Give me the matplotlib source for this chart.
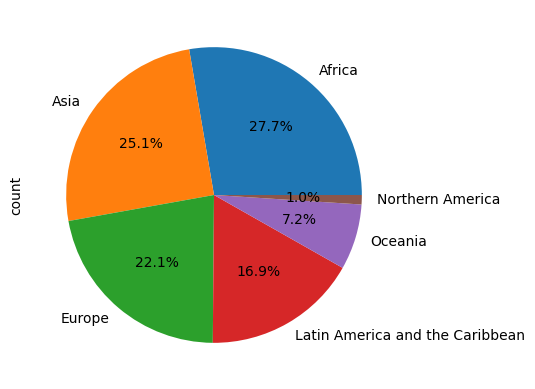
import matplotlib
matplotlib.use('Agg')
import matplotlib.pyplot as plt

# countries per region
regions = ['Africa', 'Asia', 'Europe', 'Latin America and the Caribbean', 'Oceania', 'Northern America']
counts = [54, 49, 43, 33, 14, 2]

fig = plt.figure(figsize=(5.35, 3.89), dpi=100)
# square axes, pie radius ~148 px like the default figure
side = 369.6
cx, cy = 214, 389 - 195
ax = fig.add_axes([(cx - side / 2) / 535, (cy - side / 2) / 389, side / 535, side / 389])

ax.pie(counts, labels=regions, autopct='%1.1f%%')
ax.set_ylabel('count')

fig.savefig('out.png', dpi=100)
